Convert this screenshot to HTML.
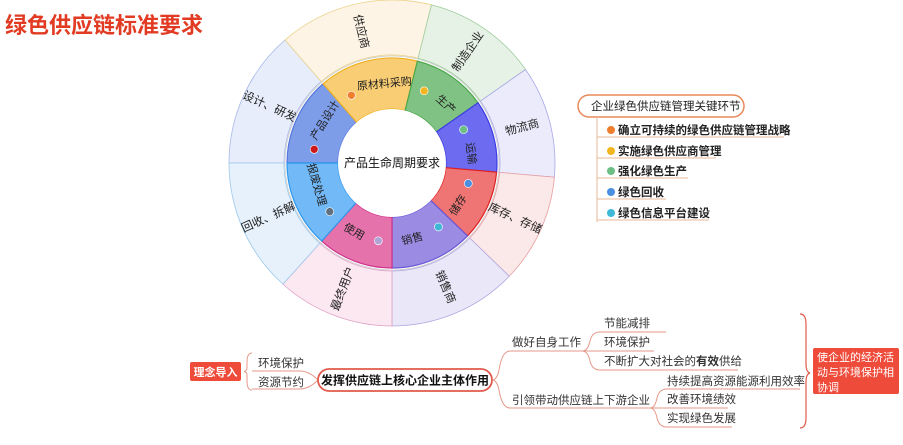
<!DOCTYPE html>
<html><head><meta charset="utf-8"><style>
html,body{margin:0;padding:0;background:#fff;}
body{width:903px;height:440px;overflow:hidden;}
svg text{font-family:"Liberation Sans","Noto Sans CJK SC",sans-serif;}
</style></head><body>
<svg id="s" width="903" height="440" viewBox="0 0 903 440" xmlns="http://www.w3.org/2000/svg">
<text x="5" y="33" font-size="22" font-weight="bold" fill="#e23b24">绿色供应链标准要求</text>
<g id="wheel"></g>
<g id="labels" font-size="11" fill="#222" text-anchor="middle" dominant-baseline="central">
<text id="o0" font-size="11.5">设计、研发</text><text id="o1" font-size="11.5">供应商</text><text id="o2" font-size="11.5">制造企业</text><text id="o3" font-size="11.5">物流商</text>
<text id="o4" font-size="11.5">库存、存储</text><text id="o5" font-size="11.5">销售商</text><text id="o6" font-size="11.5">最终用户</text><text id="o7" font-size="11.5">回收、拆解</text>
<text id="i0">产品设计</text><text id="i1">原材料采购</text><text id="i2">生产</text><text id="i3">运输</text>
<text id="i4">储存</text><text id="i5">销售</text><text id="i6">使用</text><text id="i7">报废处理</text>
</g>
<text x="392" y="163" font-size="12" text-anchor="middle" dominant-baseline="central" fill="#111">产品生命周期要求</text>

<rect x="578" y="95" width="166" height="22" rx="11" fill="#fff" stroke="#e8895a" stroke-width="1.5"/>
<text x="591" y="110" font-size="11.5" fill="#222">企业绿色供应链管理关键环节</text>
<path d="M597 117 V222" stroke="#e8b89a" fill="none"/>
<g font-size="11.5" font-weight="bold" fill="#222">
<circle cx="611" cy="130" r="4" fill="#ef7e2f"/><text x="618" y="134">确立可持续的绿色供应链管理战略</text>
<circle cx="611" cy="151" r="4" fill="#f2b522"/><text x="618" y="155">实施绿色供应商管理</text>
<circle cx="611" cy="171" r="4" fill="#6cbf83"/><text x="618" y="175">强化绿色生产</text>
<circle cx="611" cy="192" r="4" fill="#4a8fe0"/><text x="618" y="196">绿色回收</text>
<circle cx="611" cy="213" r="4" fill="#3fb8d8"/><text x="618" y="217">绿色信息平台建设</text>
</g>
<g stroke="#e8b89a" fill="none">
<path d="M597 137 H784"/><path d="M597 158 H716"/><path d="M597 178 H688"/><path d="M597 199 H666"/><path d="M597 220 H709"/>
</g>

<rect x="190" y="362" width="51" height="19" rx="2" fill="#ee4b3a"/>
<text x="215.5" y="376" font-size="11" font-weight="bold" fill="#fff" text-anchor="middle">理念导入</text>
<path d="M252 353 Q247 353 247 362 V368 Q247 371 244 371.5 Q247 372 247 375 V381 Q247 390 252 390" stroke="#e49a8a" fill="none"/>
<g font-size="11.5" fill="#333">
<text x="258" y="367">环境保护</text><text x="258" y="386">资源节约</text>
</g>
<g stroke="#e49a8a" fill="none">
<path d="M252 371 H300 Q309 371 318 380"/><path d="M252 389 H300 Q309 389 318 380"/>
</g>
<rect x="318" y="369" width="174" height="22" rx="11" fill="#fff" stroke="#e0594a" stroke-width="1.8"/>
<text x="405" y="384.5" font-size="12" font-weight="bold" fill="#111" text-anchor="middle">发挥供应链上核心企业主体作用</text>
<g stroke="#e49a8a" fill="none">
<path d="M492 380 Q497 380 499 370 Q502 351 510 351 H582"/>
<path d="M492 380 Q497 380 499 390 Q502 408 510 408 H650"/>
<path d="M582 351 Q588 351 590 341 Q592 332 600 332 H666"/>
<path d="M582 351 H654"/>
<path d="M582 351 Q588 351 590 361 Q592 370 600 370 H738"/>
<path d="M650 408 Q655 408 657 398 Q659 389 667 389 H800"/>
<path d="M650 408 H728"/>
<path d="M650 408 Q655 408 657 418 Q659 427 667 427 H732"/>
</g>
<g font-size="11.5" fill="#333">
<text x="512" y="346">做好自身工作</text>
<text x="512" y="404">引领带动供应链上下游企业</text>
<text x="604" y="327">节能减排</text>
<text x="604" y="346">环境保护</text>
<text x="604" y="365">不断扩大对社会的<tspan font-weight="bold">有效</tspan>供给</text>
<text x="667" y="385">持续提高资源能源利用效率</text>
<text x="667" y="403">改善环境绩效</text>
<text x="667" y="422">实现绿色发展</text>
</g>
<path d="M800 314 Q806 314 806 324 V364 Q806 372 810 373 Q806 374 806 382 V418 Q806 428 800 428" stroke="#e0594a" fill="none" stroke-width="1.2"/>
<rect x="813" y="348" width="86" height="46" rx="2" fill="#ee4b3a"/>
<g font-size="11" fill="#fff">
<text x="817" y="361">使企业的经济活</text>
<text x="817" y="376">动与环境保护相</text>
<text x="817" y="391">协调</text>
</g>
</svg>
<script>
(function(){
var cx=392,cy=163,R=163,r2=105,r1=54,NS="http://www.w3.org/2000/svg";
var b=[270,319,374,415,455,494,540,582,630];
var ofill=["#e8edfb","#fdf4e6","#e6f2e6","#ebebfb","#fbe8e8","#eae8f8","#fbe8f0","#e6f1fc"];
var ostroke=["#a8b8e8","#ecd28a","#9ccc9c","#a8a8e8","#e8a0a0","#b0a8e0","#e0a0c8","#9cc8ec"];
var ifill=["#7e9de9","#f9cd73","#80c283","#6d6cf0","#ef7474","#9b8be3","#e672ac","#72b9f8"];
var istroke=["#5577dd","#f0b020","#4aa84a","#3b3be6","#e02020","#6a58d8","#d0308a","#2a98ee"];
var bc=["#cc1a1a","#ef7e2f","#f2b522","#6cbf83","#4a8fe0","#3fb8d8","#b0a4d4","#607080"];
function P(r,a){a=a*Math.PI/180;return [cx+r*Math.sin(a),cy-r*Math.cos(a)];}
function sector(r0,r,a0,a1){var p1=P(r,a0),p2=P(r,a1),p3=P(r0,a1),p4=P(r0,a0);
return "M"+p4+" L"+p1+" A"+r+" "+r+" 0 0 1 "+p2+" L"+p3+" A"+r0+" "+r0+" 0 0 0 "+p4+"Z";}
var g=document.getElementById("wheel");
function add(tag,at){var e=document.createElementNS(NS,tag);for(var k in at)e.setAttribute(k,at[k]);g.appendChild(e);return e;}
for(var i=0;i<8;i++){
 add("path",{d:sector(r2+3,R,b[i],b[i+1]),fill:ofill[i],stroke:ostroke[i],"stroke-width":"0.8"});
}
add("circle",{cx:cx,cy:cy,r:r2+2,fill:"#fff",stroke:"#ccc","stroke-width":"0.8"});
for(var i=0;i<8;i++){
 add("path",{d:sector(r1,r2,b[i],b[i+1]),fill:ifill[i],stroke:istroke[i],"stroke-width":"1.2"});
}
add("circle",{cx:cx,cy:cy,r:r1,fill:"#fff"});
for(var i=0;i<8;i++){
 var m=(b[i]+b[i+1])/2;
 var rot=m+90; rot=((rot%360)+360)%360; if(rot>180)rot-=360; if(rot>90)rot-=180; if(rot<-90)rot+=180;
 var p=P(135,m),t=document.getElementById("o"+i);
 t.setAttribute("x",p[0]);t.setAttribute("y",p[1]);t.setAttribute("transform","rotate("+rot+" "+p[0]+" "+p[1]+")");
 var la=m+8;
 var ri=((la%360)+360)%360; if(ri>180)ri-=360; if(ri>90)ri-=180; if(ri<-90)ri+=180;
 var q=P(79,la),u=document.getElementById("i"+i);
 u.setAttribute("x",q[0]);u.setAttribute("y",q[1]);u.setAttribute("transform","rotate("+ri+" "+q[0]+" "+q[1]+")");
 var c=P(79,b[i]+10);
 add("circle",{cx:c[0],cy:c[1],r:4,fill:bc[i],stroke:"#fff","stroke-width":"0.6"});
}
})();
</script>
</body></html>
